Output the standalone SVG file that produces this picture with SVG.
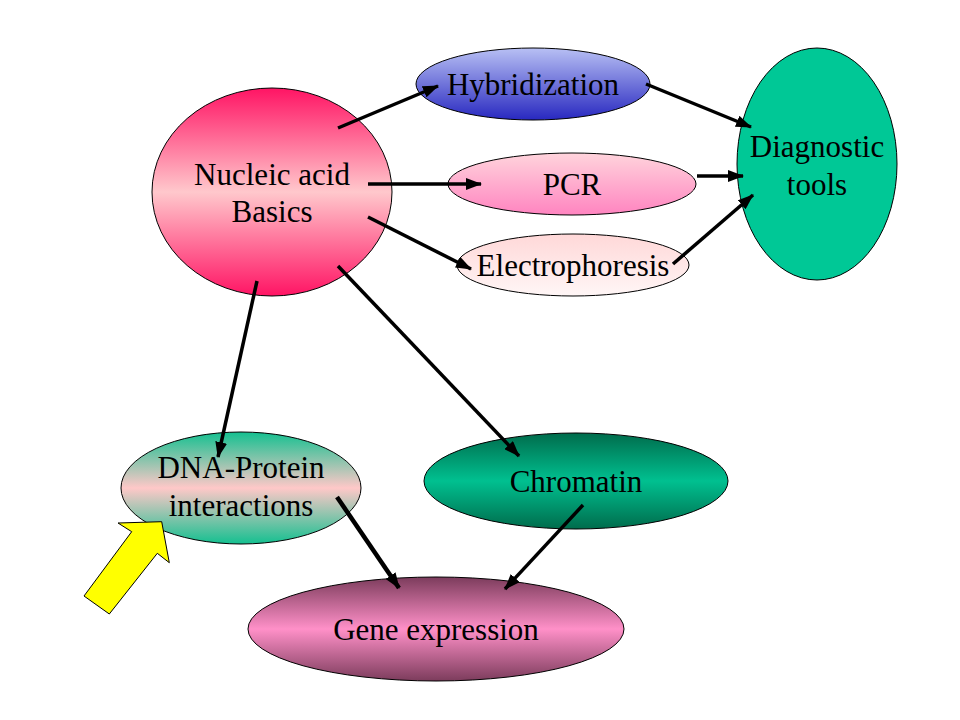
<svg xmlns="http://www.w3.org/2000/svg" width="960" height="720" viewBox="0 0 960 720">
<defs>
<linearGradient id="gNuc" x1="0" y1="0" x2="0" y2="1"><stop offset="0" stop-color="#ff1464"/><stop offset="0.5" stop-color="#ffc8cc"/><stop offset="1" stop-color="#ff1464"/></linearGradient>
<linearGradient id="gHyb" x1="0" y1="0" x2="0" y2="1"><stop offset="0" stop-color="#b8c0f4"/><stop offset="1" stop-color="#2828c0"/></linearGradient>
<linearGradient id="gPcr" x1="0" y1="0" x2="0" y2="1"><stop offset="0" stop-color="#ffd4dc"/><stop offset="1" stop-color="#ff84c0"/></linearGradient>
<linearGradient id="gEle" x1="0" y1="0" x2="0" y2="1"><stop offset="0" stop-color="#ffd8d8"/><stop offset="1" stop-color="#fff6f6"/></linearGradient>
<linearGradient id="gDna" x1="0" y1="0" x2="0" y2="1"><stop offset="0" stop-color="#14c090"/><stop offset="0.5" stop-color="#ffc8c8"/><stop offset="1" stop-color="#14c090"/></linearGradient>
<linearGradient id="gChr" x1="0" y1="0" x2="0" y2="1"><stop offset="0" stop-color="#006c4c"/><stop offset="0.5" stop-color="#00c090"/><stop offset="1" stop-color="#006c4c"/></linearGradient>
<linearGradient id="gGen" x1="0" y1="0" x2="0" y2="1"><stop offset="0" stop-color="#7c3c5c"/><stop offset="0.5" stop-color="#ff90c8"/><stop offset="1" stop-color="#7c3c5c"/></linearGradient>
<marker id="ah" markerUnits="userSpaceOnUse" markerWidth="16" markerHeight="12" refX="15" refY="6" orient="auto"><path d="M0,0 L16,6 L0,12 Z" fill="#000"/></marker>
</defs>
<style>
.n{stroke:#000;stroke-width:1}
.t{font-family:"Liberation Serif","Times New Roman",serif;font-size:31px;fill:#000;text-anchor:middle}
.c line{stroke:#000;stroke-width:3.5;marker-end:url(#ah)}
</style>
<rect width="960" height="720" fill="#fff"/>
<g id="nucleic"><ellipse class="n" cx="272" cy="192" rx="120" ry="104" fill="url(#gNuc)"/><text class="t" x="272" y="185">Nucleic acid</text><text class="t" x="272" y="222">Basics</text></g>
<g id="hybridization"><ellipse class="n" cx="533" cy="84" rx="117" ry="36" fill="url(#gHyb)"/><text class="t" x="533" y="95">Hybridization</text></g>
<g id="pcr"><ellipse class="n" cx="572" cy="184" rx="124" ry="31" fill="url(#gPcr)"/><text class="t" x="572" y="195">PCR</text></g>
<g id="electrophoresis"><ellipse class="n" cx="573" cy="265" rx="116" ry="31" fill="url(#gEle)"/><text class="t" x="573" y="276">Electrophoresis</text></g>
<g id="diagnostic"><ellipse class="n" cx="817" cy="164" rx="80" ry="116" fill="#00c896"/><text class="t" x="817" y="157">Diagnostic</text><text class="t" x="817" y="195">tools</text></g>
<g id="dnaprotein"><ellipse class="n" cx="241" cy="488" rx="120" ry="56" fill="url(#gDna)"/><text class="t" x="241" y="478">DNA-Protein</text><text class="t" x="241" y="516">interactions</text></g>
<g id="chromatin"><ellipse class="n" cx="576" cy="481" rx="152" ry="48" fill="url(#gChr)"/><text class="t" x="576" y="492">Chromatin</text></g>
<g id="gene"><ellipse class="n" cx="436" cy="629" rx="188" ry="52" fill="url(#gGen)"/><text class="t" x="436" y="640">Gene expression</text></g>
<g id="pointer"><polygon points="161.7,521.7 169.3,562.7 157.3,553.3 109.3,614 84,596 131.7,531.7 118,523" fill="#ffff00" stroke="#000" stroke-width="1"/></g>
<g class="c" id="connectors">
<line x1="338" y1="128" x2="438" y2="86"/>
<line x1="368" y1="184" x2="481" y2="184"/>
<line x1="368" y1="217" x2="471" y2="269"/>
<line x1="338" y1="266" x2="519" y2="456"/>
<line x1="257" y1="281" x2="218" y2="457"/>
<line x1="646" y1="84" x2="751" y2="127"/>
<line x1="697" y1="176" x2="743" y2="176"/>
<line x1="673" y1="264" x2="753" y2="195"/>
<line x1="337" y1="497" x2="399" y2="588" style="stroke-width:4.5"/>
<line x1="583" y1="505" x2="505" y2="589"/>
</g>
</svg>
